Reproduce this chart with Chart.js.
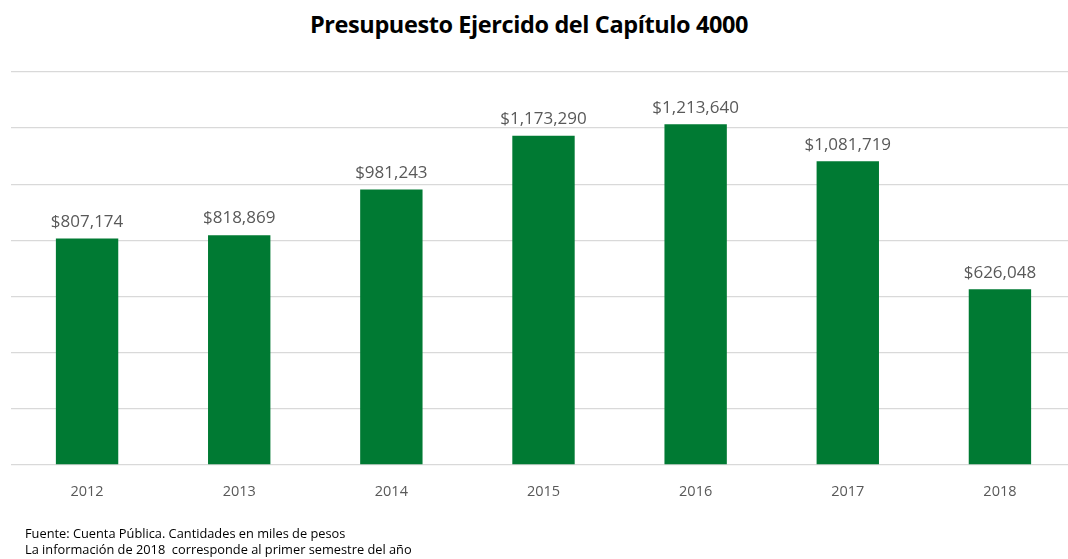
<!DOCTYPE html>
<html>
<head>
<meta charset="utf-8">
<script src="https://cdn.jsdelivr.net/npm/chart.js@4.4.0/dist/chart.umd.min.js"></script>
<style>
  html, body { margin: 0; padding: 0; background: #fff; overflow: hidden; }
  body { width: 1068px; height: 559px; position: relative; }
  #wrap { position: absolute; left: 0; top: 0; width: 1080px; height: 559px; }
  #title {
    position: absolute; left: 0; top: 8px; width: 1058px; text-align: center;
    font-family: "Open Sans", sans-serif; font-weight: bold; font-size: 23.5px; color: #000;
    letter-spacing: -0.4px;
  }
  #notes {
    position: absolute; left: 25px; top: 525px; font-family: "Open Sans", sans-serif;
    font-size: 12.8px; line-height: 16px; color: #000; white-space: nowrap;
  }
</style>
</head>
<body>
<div id="title">Presupuesto Ejercido del Capítulo 4000</div>
<div id="wrap"><canvas id="chart"></canvas></div>
<div id="notes">Fuente: Cuenta Pública. Cantidades en miles de pesos<br>La información de 2018&nbsp; corresponde al primer semestre del año</div>
<script>
// --- DATA ---
const years = ["2012", "2013", "2014", "2015", "2016", "2017", "2018"];
const spent = [807174, 818869, 981243, 1173290, 1213640, 1081719, 626048];
const yMax = 1400000;
const yStep = 200000;

function money(v) {
  return "$" + v.toLocaleString("en-US");
}

// value labels above each bar
const barLabels = {
  id: "barLabels",
  afterDatasetsDraw(chart) {
    const ctx = chart.ctx;
    const meta = chart.getDatasetMeta(0);
    ctx.save();
    ctx.font = "17px 'Open Sans', sans-serif";
    ctx.fillStyle = "#595959";
    ctx.textAlign = "center";
    ctx.textBaseline = "bottom";
    meta.data.forEach((bar, i) => {
      ctx.fillText(money(spent[i]), bar.x, bar.y - 8);
    });
    ctx.restore();
  }
};

const ctx = document.getElementById("chart").getContext("2d");
new Chart(ctx, {
  type: "bar",
  data: {
    labels: years,
    datasets: [{
      label: "Presupuesto",
      data: spent,
      backgroundColor: "#007a33",
      barPercentage: 0.41,
      categoryPercentage: 1
    }]
  },
  options: {
    responsive: true,
    maintainAspectRatio: false,
    animation: false,
    layout: { padding: { top: 72, left: 11, right: 4, bottom: 49 } },
    plugins: {
      legend: { display: false },
      tooltip: { enabled: false }
    },
    scales: {
      x: {
        grid: { display: false },
        border: { display: false },
        ticks: {
          color: "#595959",
          padding: 10,
          font: { family: "'Open Sans', sans-serif", size: 14.5 }
        },
        afterFit: s => { s.height = 45; }
      },
      y: {
        min: 0,
        max: yMax,
        ticks: { display: false, stepSize: yStep },
        grid: { color: "#d9d9d9", lineWidth: 1.3, drawTicks: false },
        border: { display: false }
      }
    }
  },
  plugins: [barLabels]
});
</script>
</body>
</html>
